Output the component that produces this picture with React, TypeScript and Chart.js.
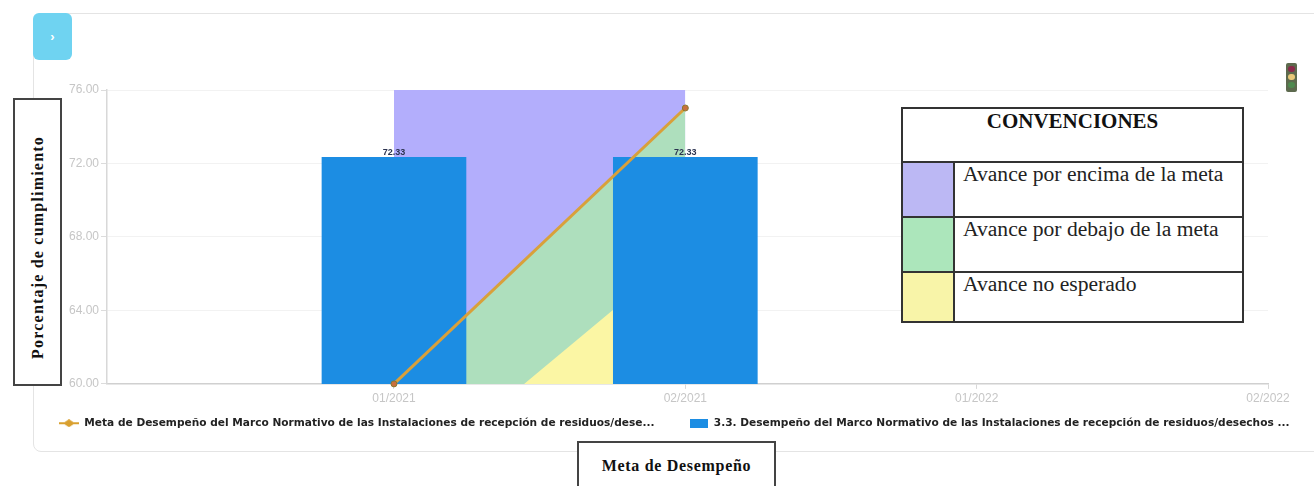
import React, { useEffect, useRef } from "react";
import { Chart, registerables } from "chart.js";

Chart.register(...registerables);

const tickLabels = ["01/2021", "02/2021", "01/2022", "02/2022"];
const tickPositions = [0, 1, 2, 3];
const metaX = [0, 1];
const metaValues = [60, 75.02];
const barX = [0, 1];
const barValues = [72.33, 72.33];
const zoneX = [0, 1];
const purpleZone = [76, 76];
const greenZone = [60, 75.02];
const yellowZone = [54.1, 67.3];
const metaName = "Meta de Desempeño del Marco Normativo de las Instalaciones de recepción de residuos/dese...";
const barName = "3.3. Desempeño del Marco Normativo de las Instalaciones de recepción de residuos/desechos ...";
const conventions = [
  { text: "Avance por encima de la meta", color: "#bcb8f4" },
  { text: "Avance por debajo de la meta", color: "#ace6bb" },
  { text: "Avance no esperado", color: "#f8f4a8" },
];

const zip = (xs: number[], ys: number[]) => xs.map((x, i) => ({ x, y: ys[i] }));

function metaMarker() {
  const c = document.createElement("canvas");
  c.width = 20;
  c.height = 8;
  const g = c.getContext("2d")!;
  g.fillStyle = "#d9a02f";
  g.fillRect(0, 3, 20, 2);
  g.beginPath();
  g.moveTo(10, 0);
  g.lineTo(16, 4);
  g.lineTo(10, 8);
  g.lineTo(4, 4);
  g.closePath();
  g.fill();
  return c;
}

function barMarker() {
  const c = document.createElement("canvas");
  c.width = 18;
  c.height = 9;
  const g = c.getContext("2d")!;
  g.fillStyle = "#1c8de3";
  g.fillRect(0, 0, 18, 9);
  return c;
}

const valueLabels = {
  id: "valueLabels",
  // Keeps both legend items on one row: they are wider than the layout's inner width.
  beforeLayout(chart: any) {
    const leg = chart.legend;
    if (!leg || leg.__oneRow) return;
    leg.__oneRow = true;
    const fit = leg.fit;
    leg.fit = function () {
      const m = this.maxWidth;
      this.maxWidth = 5000;
      fit.call(this);
      this.maxWidth = m;
      this.width = m;
    };
  },
  afterLayout(chart: any) {
    const s = chart.scales.x;
    s.bottom = s.top + 30;
    chart.legend.right = 5000;
  },
  afterDatasetsDraw(chart: any) {
    const { ctx } = chart;
    chart.data.datasets.forEach((d: any, i: number) => {
      if (d.type !== "bar") return;
      chart.getDatasetMeta(i).data.forEach((el: any, j: number) => {
        ctx.save();
        ctx.font = "bold 9px 'Liberation Sans'";
        ctx.fillStyle = "#2b3350";
        ctx.textAlign = "center";
        ctx.textBaseline = "bottom";
        ctx.fillText(d.data[j].y.toFixed(2), el.x, el.y);
        ctx.restore();
      });
    });
  },
};

export default function App() {
  const ref = useRef<HTMLCanvasElement>(null);

  useEffect(() => {
    const markers = [metaMarker(), barMarker()];
    const chart = new Chart(ref.current!, {
      type: "bar",
      data: {
        datasets: [
          {
            type: "line",
            label: metaName,
            data: zip(metaX, metaValues),
            borderColor: "#d9a03a",
            borderWidth: 3,
            pointRadius: 3,
            pointBackgroundColor: "#c9703f",
            pointBorderColor: "#8b7a30",
            pointBorderWidth: 1,
            tension: 0,
            order: 0,
            clip: false,
          },
          {
            type: "bar",
            label: barName,
            data: zip(barX, barValues),
            backgroundColor: "#1c8de3",
            barThickness: 144,
            order: 1,
          },
          {
            type: "line",
            label: "yellow",
            data: zip(zoneX, yellowZone),
            borderWidth: 0,
            pointRadius: 0,
            backgroundColor: "#fbf6a4",
            fill: "start",
            tension: 0,
            order: 2,
          },
          {
            type: "line",
            label: "green",
            data: zip(zoneX, greenZone),
            borderWidth: 0,
            pointRadius: 0,
            backgroundColor: "#aedfbd",
            fill: "start",
            tension: 0,
            order: 3,
          },
          {
            type: "line",
            label: "purple",
            data: zip(zoneX, purpleZone),
            borderWidth: 0,
            pointRadius: 0,
            backgroundColor: "#b3aefc",
            fill: "start",
            tension: 0,
            order: 4,
          },
        ],
      } as any,
      options: {
        animation: false,
        responsive: false,
        layout: { padding: { left: 25, right: 46, top: 90, bottom: 47.5 } },
        plugins: {
          tooltip: { enabled: false },
          legend: {
            position: "bottom",
            align: "start",
            labels: {
              boxWidth: 19,
              boxHeight: 9,
              padding: 34,
              usePointStyle: true,
              pointStyleWidth: 20,
              color: "#222",
              font: { family: "'DejaVu Sans'", size: 10.6, weight: "bold" },
              generateLabels: () =>
                [metaName, barName].map((text, i) => ({
                  text,
                  datasetIndex: i,
                  pointStyle: markers[i],
                  fillStyle: "#000",
                  strokeStyle: "#000",
                  lineWidth: 0,
                  fontColor: "#222",
                })),
            },
          },
        } as any,
        scales: {
          x: {
            type: "linear",
            offset: false,
            min: -0.985,
            max: 3,
            afterBuildTicks: (s: any) => {
              s.ticks = tickPositions.map((value) => ({ value }));
            },
            afterFit: (s: any) => {
              s.height = 0;
            },
            ticks: {
              color: "#c6c6c6",
              autoSkip: false,
              maxRotation: 0,
              padding: 3,
              font: { family: "'Liberation Sans'", size: 12 },
              callback: (v: any) => tickLabels[v] ?? "",
            },
            grid: { offset: false, drawOnChartArea: false, color: "#d8d8d8", tickLength: 5 },
            border: { color: "#d0d0d0", width: 1.5 },
          },
          y: {
            min: 60,
            max: 76,
            afterFit: (s: any) => {
              s.width = 82;
            },
            ticks: {
              stepSize: 4,
              color: "#c6c6c6",
              padding: 2,
              font: { family: "'Liberation Sans'", size: 12 },
              callback: (v: any) => Number(v).toFixed(2),
            },
            grid: { color: "#f2f2f2", tickLength: 6, tickColor: "#dcdcdc" },
            border: { color: "#d8d8d8", width: 1.5 },
          },
        },
      } as any,
      plugins: [valueLabels],
    } as any);
    return () => chart.destroy();
  }, []);

  const abs = (l: number, t: number, w: number, h: number): React.CSSProperties => ({
    position: "absolute",
    left: l,
    top: t,
    width: w,
    height: h,
    boxSizing: "border-box",
  });
  const serif = "'Liberation Serif', serif";

  return (
    <div style={{ position: "fixed", left: 0, top: 0, width: 1314, height: 486, overflow: "hidden", background: "#fff", filter: "blur(0.5px)" }}>
      <div style={{ ...abs(33, 13, 1300, 439), border: "1.5px solid #e4e4e4", borderRadius: 8 }} />
      <canvas ref={ref} width={1314} height={486} style={{ position: "absolute", left: 0, top: 0 }} />
      <div style={{ ...abs(33, 13, 39, 47), background: "#6fd3f1", borderRadius: 6, color: "#fff", font: "bold 13px 'Liberation Sans'", display: "flex", alignItems: "center", justifyContent: "center" }}>›</div>

      <div style={{ ...abs(1286, 63, 11, 29), background: "#5d6a4e", borderRadius: 2 }}>
        <div style={{ ...abs(2, 3, 7, 6), background: "#8a2a4a", borderRadius: 3 }} />
        <div style={{ ...abs(2, 11, 7, 6), background: "#e8c878", borderRadius: 3 }} />
        <div style={{ ...abs(2, 19, 7, 6), background: "#4f8a4f", borderRadius: 3 }} />
      </div>

      <div style={{ ...abs(13, 98, 49, 288), background: "#fff", border: "2px solid #444", display: "flex", alignItems: "center", justifyContent: "center" }}>
        <span style={{ writingMode: "vertical-rl", transform: "rotate(180deg)", font: `bold 16px ${serif}`, letterSpacing: 1.2, color: "#111", whiteSpace: "nowrap", marginTop: 10 }}>
          Porcentaje de cumplimiento
        </span>
      </div>

      <div style={{ ...abs(577, 441, 199, 50), background: "#fff", border: "2px solid #444", textAlign: "center", paddingTop: 14, font: `bold 16px ${serif}`, letterSpacing: 0.7, color: "#111" }}>
        Meta de Desempeño
      </div>

      <div style={{ ...abs(901, 107, 343, 216), background: "#fff", border: "2px solid #333" }}>
        <div style={{ ...abs(0, 0, 339, 53), textAlign: "center", font: `bold 21px ${serif}`, color: "#111" }}>CONVENCIONES</div>
        {conventions.map((c, i) => (
          <div key={c.text} style={{ ...abs(0, 52 + i * 55, 339, i === 2 ? 50 : 55), borderTop: "2px solid #333" }}>
            <div style={{ ...abs(0, 0, 52, i === 2 ? 48 : 53), background: c.color, borderRight: "2px solid #333" }} />
            <div style={{ ...abs(60, -1, 279, 30), font: `21.6px ${serif}`, color: "#222", whiteSpace: "nowrap" }}>{c.text}</div>
          </div>
        ))}
      </div>
    </div>
  );
}
